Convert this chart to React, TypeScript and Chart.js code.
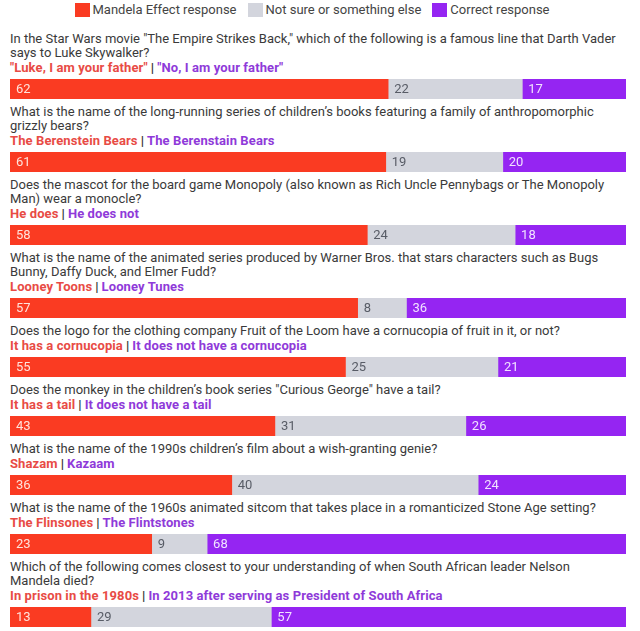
import React, { useEffect, useRef } from "react";
import { Chart, registerables } from "chart.js";

Chart.register(...registerables);

const seriesNames = ["Mandela Effect response", "Not sure or something else", "Correct response"];
const seriesColors = ["#fa3b22", "#d3d5dd", "#9525f2"];
const valueLabelColors = ["#ffe3dc", "#585c66", "#f1e2ff"];

const questionLines: string[][] = [
  ['In the Star Wars movie "The Empire Strikes Back," which of the following is a famous line that Darth Vader', "says to Luke Skywalker?"],
  ["What is the name of the long-running series of children\u2019s books featuring a family of anthropomorphic", "grizzly bears?"],
  ["Does the mascot for the board game Monopoly (also known as Rich Uncle Pennybags or The Monopoly", "Man) wear a monocle?"],
  ["What is the name of the animated series produced by Warner Bros. that stars characters such as Bugs", "Bunny, Daffy Duck, and Elmer Fudd?"],
  ["Does the logo for the clothing company Fruit of the Loom have a cornucopia of fruit in it, or not?"],
  ["Does the monkey in the children\u2019s book series \"Curious George\" have a tail?"],
  ["What is the name of the 1990s children\u2019s film about a wish-granting genie?"],
  ["What is the name of the 1960s animated sitcom that takes place in a romanticized Stone Age setting?"],
  ["Which of the following comes closest to your understanding of when South African leader Nelson", "Mandela died?"],
];

const mandelaAnswers = [
  "\"Luke, I am your father\"",
  "The Berenstein Bears",
  "He does",
  "Looney Toons",
  "It has a cornucopia",
  "It has a tail",
  "Shazam",
  "The Flinsones",
  "In prison in the 1980s",
];

const correctAnswers = [
  "\"No, I am your father\"",
  "The Berenstain Bears",
  "He does not",
  "Looney Tunes",
  "It does not have a cornucopia",
  "It does not have a tail",
  "Kazaam",
  "The Flintstones",
  "In 2013 after serving as President of South Africa",
];

const mandelaValues = [62, 61, 58, 57, 55, 43, 36, 23, 13];
const unsureValues = [22, 19, 24, 8, 25, 31, 40, 9, 29];
const correctValues = [17, 20, 18, 36, 21, 26, 24, 68, 57];

const FONT = "Roboto, 'Noto Sans', sans-serif";

const valueLabelPlugin = {
  id: "valueLabels",
  afterDatasetsDraw(chart: any) {
    const ctx = chart.ctx;
    ctx.save();
    ctx.font = `400 13px ${FONT}`;
    ctx.textBaseline = "middle";
    ctx.textAlign = "left";
    chart.data.datasets.forEach((ds: any, di: number) => {
      const meta = chart.getDatasetMeta(di);
      meta.data.forEach((el: any, i: number) => {
        const v = ds.data[i];
        const left = Math.min(el.base, el.x);
        ctx.fillStyle = valueLabelColors[di];
        ctx.fillText(String(v), left + 6, el.y + 1);
      });
    });
    ctx.restore();
  },
};

function RowBar({ values }: { values: number[] }) {
  const ref = useRef<HTMLCanvasElement | null>(null);
  useEffect(() => {
    if (!ref.current) return;
    const total = values.reduce((a, b) => a + b, 0);
    const chart = new Chart(ref.current, {
      type: "bar",
      data: {
        labels: [""],
        datasets: seriesNames.map((name, i) => ({
          label: name,
          data: [values[i]],
          backgroundColor: seriesColors[i],
          borderWidth: 0,
          barPercentage: 1,
          categoryPercentage: 1,
        })),
      },
      options: {
        indexAxis: "y",
        animation: false,
        responsive: true,
        maintainAspectRatio: false,
        events: [],
        layout: { padding: 0 },
        plugins: { legend: { display: false }, tooltip: { enabled: false } },
        scales: {
          x: { stacked: true, min: 0, max: total, display: false },
          y: { stacked: true, display: false },
        },
      },
      plugins: [valueLabelPlugin],
    } as any);
    return () => chart.destroy();
  }, [values]);
  return (
    <div style={{ position: "relative", width: 616, height: 20 }}>
      <canvas ref={ref} />
    </div>
  );
}

export default function App() {
  return (
    <div
      style={{
        position: "absolute",
        left: 0,
        top: 0,
        width: 640,
        height: 631,
        background: "#ffffff",
        fontFamily: FONT,
        overflow: "hidden",
      }}
    >
      <div
        style={{
          height: 32,
          boxSizing: "border-box",
          paddingTop: 3,
          paddingRight: 16,
          display: "flex",
          justifyContent: "center",
          alignItems: "flex-start",
          gap: 11,
        }}
      >
        {seriesNames.map((n, i) => (
          <div key={n} style={{ display: "flex", alignItems: "center", gap: 3 }}>
            <span style={{ width: 15, height: 14, background: seriesColors[i], display: "inline-block" }} />
            <span style={{ fontSize: 13, lineHeight: "14px", color: "#444" }}>{n}</span>
          </div>
        ))}
      </div>
      <div style={{ paddingLeft: 10 }}>
        {questionLines.map((lines, r) => (
          <div key={r} style={{ marginBottom: 6 }}>
            {lines.map((l, k) => (
              <div key={k} style={{ fontSize: 13, lineHeight: "14px", height: 14, color: "#3a3a3a", whiteSpace: "nowrap" }}>
                {l}
              </div>
            ))}
            <div style={{ fontSize: 13, lineHeight: "16px", height: 15, fontWeight: 700, whiteSpace: "nowrap", letterSpacing: 0.1 }}>
              <span style={{ color: "#e84b45" }}>{mandelaAnswers[r]}</span>
              <span style={{ color: "#333", margin: "0 3px" }}>|</span>
              <span style={{ color: "#8f3ad9" }}>{correctAnswers[r]}</span>
            </div>
            <div style={{ height: 4 }} />
            <RowBar values={[mandelaValues[r], unsureValues[r], correctValues[r]]} />
          </div>
        ))}
      </div>
    </div>
  );
}
